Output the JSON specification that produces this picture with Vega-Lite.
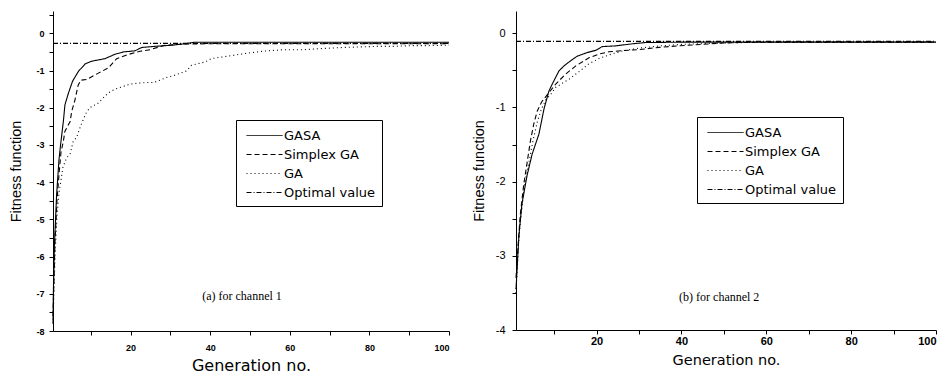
{
  "$schema": "https://vega.github.io/schema/vega-lite/v6.json",
  "background": "white",
  "padding": {"left": 8, "top": 10, "right": 0, "bottom": 0},
  "spacing": 19,
  "datasets": {
    "ch1": [
      {"series": "GASA", "gen": 0.5, "value": -7.8}, {"series": "GASA", "gen": 0.6, "value": -6.9}, {"series": "GASA", "gen": 0.85, "value": -5.7}, {"series": "GASA", "gen": 1.4, "value": -4.35}, {"series": "GASA", "gen": 2, "value": -3.4}, {"series": "GASA", "gen": 2.4, "value": -3.0}, {"series": "GASA", "gen": 3.1, "value": -2.37}, {"series": "GASA", "gen": 3.5, "value": -1.92}, {"series": "GASA", "gen": 4.4, "value": -1.6}, {"series": "GASA", "gen": 5.4, "value": -1.29}, {"series": "GASA", "gen": 6.9, "value": -1.02}, {"series": "GASA", "gen": 8.6, "value": -0.82}, {"series": "GASA", "gen": 10.2, "value": -0.75}, {"series": "GASA", "gen": 13.6, "value": -0.68}, {"series": "GASA", "gen": 16.1, "value": -0.56}, {"series": "GASA", "gen": 18.2, "value": -0.5}, {"series": "GASA", "gen": 21.1, "value": -0.47}, {"series": "GASA", "gen": 22.8, "value": -0.38}, {"series": "GASA", "gen": 26.1, "value": -0.35}, {"series": "GASA", "gen": 30.3, "value": -0.32}, {"series": "GASA", "gen": 33.6, "value": -0.28}, {"series": "GASA", "gen": 36, "value": -0.24}, {"series": "GASA", "gen": 100, "value": -0.24},
      {"series": "Simplex GA", "gen": 0.5, "value": -7.6}, {"series": "Simplex GA", "gen": 1, "value": -5.6}, {"series": "Simplex GA", "gen": 1.5, "value": -4.5}, {"series": "Simplex GA", "gen": 2, "value": -3.8}, {"series": "Simplex GA", "gen": 2.5, "value": -3.2}, {"series": "Simplex GA", "gen": 3.1, "value": -2.9}, {"series": "Simplex GA", "gen": 3.5, "value": -2.63}, {"series": "Simplex GA", "gen": 4.8, "value": -2.37}, {"series": "Simplex GA", "gen": 5.2, "value": -2.1}, {"series": "Simplex GA", "gen": 6, "value": -1.8}, {"series": "Simplex GA", "gen": 6.8, "value": -1.4}, {"series": "Simplex GA", "gen": 7.5, "value": -1.26}, {"series": "Simplex GA", "gen": 9, "value": -1.24}, {"series": "Simplex GA", "gen": 11.9, "value": -1.07}, {"series": "Simplex GA", "gen": 14.4, "value": -0.93}, {"series": "Simplex GA", "gen": 16.5, "value": -0.68}, {"series": "Simplex GA", "gen": 19.4, "value": -0.57}, {"series": "Simplex GA", "gen": 22.4, "value": -0.48}, {"series": "Simplex GA", "gen": 24.9, "value": -0.44}, {"series": "Simplex GA", "gen": 28.6, "value": -0.32}, {"series": "Simplex GA", "gen": 33, "value": -0.29}, {"series": "Simplex GA", "gen": 40, "value": -0.28}, {"series": "Simplex GA", "gen": 100, "value": -0.28},
      {"series": "GA", "gen": 0.5, "value": -7.8}, {"series": "GA", "gen": 1, "value": -6.0}, {"series": "GA", "gen": 1.5, "value": -4.9}, {"series": "GA", "gen": 2, "value": -4.3}, {"series": "GA", "gen": 3, "value": -3.6}, {"series": "GA", "gen": 3.9, "value": -3.35}, {"series": "GA", "gen": 4.8, "value": -3.24}, {"series": "GA", "gen": 5.6, "value": -2.89}, {"series": "GA", "gen": 6.4, "value": -2.81}, {"series": "GA", "gen": 7.5, "value": -2.47}, {"series": "GA", "gen": 9, "value": -2.1}, {"series": "GA", "gen": 10.2, "value": -1.96}, {"series": "GA", "gen": 11.6, "value": -1.9}, {"series": "GA", "gen": 14.4, "value": -1.6}, {"series": "GA", "gen": 16.1, "value": -1.5}, {"series": "GA", "gen": 19.4, "value": -1.38}, {"series": "GA", "gen": 20.9, "value": -1.35}, {"series": "GA", "gen": 24.3, "value": -1.32}, {"series": "GA", "gen": 25.9, "value": -1.32}, {"series": "GA", "gen": 29.2, "value": -1.18}, {"series": "GA", "gen": 30.7, "value": -1.14}, {"series": "GA", "gen": 34.1, "value": -1.01}, {"series": "GA", "gen": 35.3, "value": -0.86}, {"series": "GA", "gen": 38.7, "value": -0.77}, {"series": "GA", "gen": 40.3, "value": -0.68}, {"series": "GA", "gen": 45.3, "value": -0.6}, {"series": "GA", "gen": 49.5, "value": -0.53}, {"series": "GA", "gen": 54.3, "value": -0.47}, {"series": "GA", "gen": 58.6, "value": -0.44}, {"series": "GA", "gen": 63.5, "value": -0.44}, {"series": "GA", "gen": 67.9, "value": -0.41}, {"series": "GA", "gen": 73.4, "value": -0.38}, {"series": "GA", "gen": 76.6, "value": -0.37}, {"series": "GA", "gen": 81.7, "value": -0.35}, {"series": "GA", "gen": 86, "value": -0.35}, {"series": "GA", "gen": 90.7, "value": -0.33}, {"series": "GA", "gen": 94.7, "value": -0.33}, {"series": "GA", "gen": 100, "value": -0.32},
      {"series": "Optimal value", "gen": 0.5, "value": -0.27}, {"series": "Optimal value", "gen": 100, "value": -0.27}
    ],
    "ch2": [
      {"series": "GASA", "gen": 1, "value": -3.45}, {"series": "GASA", "gen": 1.7, "value": -2.72}, {"series": "GASA", "gen": 2.4, "value": -2.3}, {"series": "GASA", "gen": 3.6, "value": -1.92}, {"series": "GASA", "gen": 4.8, "value": -1.63}, {"series": "GASA", "gen": 6.4, "value": -1.36}, {"series": "GASA", "gen": 7.6, "value": -1.02}, {"series": "GASA", "gen": 8.75, "value": -0.78}, {"series": "GASA", "gen": 9.5, "value": -0.69}, {"series": "GASA", "gen": 11.1, "value": -0.51}, {"series": "GASA", "gen": 12.3, "value": -0.44}, {"series": "GASA", "gen": 13.9, "value": -0.37}, {"series": "GASA", "gen": 15.4, "value": -0.31}, {"series": "GASA", "gen": 17.8, "value": -0.26}, {"series": "GASA", "gen": 19.8, "value": -0.23}, {"series": "GASA", "gen": 21.3, "value": -0.18}, {"series": "GASA", "gen": 24.5, "value": -0.17}, {"series": "GASA", "gen": 28.8, "value": -0.14}, {"series": "GASA", "gen": 31.6, "value": -0.125}, {"series": "GASA", "gen": 40, "value": -0.12}, {"series": "GASA", "gen": 100, "value": -0.12},
      {"series": "Simplex GA", "gen": 1, "value": -3.3}, {"series": "Simplex GA", "gen": 1.5, "value": -2.85}, {"series": "Simplex GA", "gen": 2, "value": -2.45}, {"series": "Simplex GA", "gen": 2.8, "value": -2.05}, {"series": "Simplex GA", "gen": 3.6, "value": -1.75}, {"series": "Simplex GA", "gen": 4.4, "value": -1.45}, {"series": "Simplex GA", "gen": 5.2, "value": -1.22}, {"series": "Simplex GA", "gen": 6, "value": -1.05}, {"series": "Simplex GA", "gen": 7, "value": -0.93}, {"series": "Simplex GA", "gen": 8.75, "value": -0.8}, {"series": "Simplex GA", "gen": 10.3, "value": -0.69}, {"series": "Simplex GA", "gen": 12.7, "value": -0.55}, {"series": "Simplex GA", "gen": 15.1, "value": -0.44}, {"series": "Simplex GA", "gen": 18.2, "value": -0.33}, {"series": "Simplex GA", "gen": 20.6, "value": -0.28}, {"series": "Simplex GA", "gen": 22.9, "value": -0.25}, {"series": "Simplex GA", "gen": 26, "value": -0.235}, {"series": "Simplex GA", "gen": 30, "value": -0.22}, {"series": "Simplex GA", "gen": 34.7, "value": -0.19}, {"series": "Simplex GA", "gen": 39.4, "value": -0.17}, {"series": "Simplex GA", "gen": 44.9, "value": -0.15}, {"series": "Simplex GA", "gen": 48.8, "value": -0.135}, {"series": "Simplex GA", "gen": 53.6, "value": -0.125}, {"series": "Simplex GA", "gen": 60, "value": -0.12}, {"series": "Simplex GA", "gen": 100, "value": -0.12},
      {"series": "GA", "gen": 1, "value": -3.5}, {"series": "GA", "gen": 1.5, "value": -2.9}, {"series": "GA", "gen": 2, "value": -2.55}, {"series": "GA", "gen": 3, "value": -2.05}, {"series": "GA", "gen": 4, "value": -1.75}, {"series": "GA", "gen": 5, "value": -1.45}, {"series": "GA", "gen": 6, "value": -1.2}, {"series": "GA", "gen": 7, "value": -1.02}, {"series": "GA", "gen": 8, "value": -0.9}, {"series": "GA", "gen": 9.5, "value": -0.8}, {"series": "GA", "gen": 10.3, "value": -0.73}, {"series": "GA", "gen": 13.5, "value": -0.62}, {"series": "GA", "gen": 15.8, "value": -0.52}, {"series": "GA", "gen": 18.2, "value": -0.41}, {"series": "GA", "gen": 20.6, "value": -0.34}, {"series": "GA", "gen": 23, "value": -0.29}, {"series": "GA", "gen": 26, "value": -0.24}, {"series": "GA", "gen": 30, "value": -0.2}, {"series": "GA", "gen": 35, "value": -0.17}, {"series": "GA", "gen": 40, "value": -0.15}, {"series": "GA", "gen": 50, "value": -0.13}, {"series": "GA", "gen": 60, "value": -0.12}, {"series": "GA", "gen": 100, "value": -0.12},
      {"series": "Optimal value", "gen": 1, "value": -0.11}, {"series": "Optimal value", "gen": 100, "value": -0.11}
    ]
  },
  "hconcat": [
    {
      "width": 396,
      "height": 320,
      "encoding": {
        "x": {"field": "gen", "type": "quantitative", "scale": {"domain": [0.5, 100], "nice": false, "zero": false},
          "axis": {"title": "Generation no.", "values": [10, 20, 30, 40, 50, 60, 70, 80, 90, 100], "labelExpr": "datum.value % 20 == 0 ? '' + datum.value : ''", "labelOverlap": false, "labelFontSize": 9, "labelFontWeight": "bold", "labelPadding": 8, "titleFont": "DejaVu Sans", "titleFontSize": 16, "titlePadding": 5}},
        "y": {"field": "value", "type": "quantitative", "scale": {"domain": [-8, 0.6], "nice": false, "zero": false},
          "axis": {"title": "Fitness function", "values": [-8, -7.5, -7, -6.5, -6, -5.5, -5, -4.5, -4, -3.5, -3, -2.5, -2, -1.5, -1, -0.5, 0, 0.5], "labelExpr": "abs(datum.value - round(datum.value)) < 0.01 ? '' + round(datum.value) : ''", "labelOverlap": false, "labelFontSize": 9, "labelFontWeight": "bold", "labelPadding": 5, "titleFontSize": 14.5, "titlePadding": 12}}
      },
      "layer": [
        {
          "data": {"name": "ch1"},
          "mark": {"type": "line", "color": "black", "strokeWidth": 1.1},
          "encoding": {
            "strokeDash": {"field": "series", "type": "nominal",
              "scale": {"domain": ["GASA", "Simplex GA", "GA", "Optimal value"], "range": [[1, 0], [5, 3], [1, 3], [5, 2, 1, 2]]},
              "legend": {"orient": "none", "legendX": 183, "legendY": 109, "title": null, "padding": 6, "strokeColor": "black", "fillColor": "white", "symbolType": "M-2,0H2", "symbolSize": 324, "symbolStrokeWidth": 1, "symbolStrokeColor": "black", "symbolOffset": 13, "labelOffset": 10, "labelFont": "DejaVu Sans", "labelFontSize": 13, "labelColor": "black", "rowPadding": 2}}
          }
        },
        {
          "data": {"values": [{"gen": 48, "value": -7.07, "label": "(a) for channel 1"}]},
          "mark": {"type": "text", "font": "Liberation Serif", "fontSize": 12, "color": "black"},
          "encoding": {"text": {"field": "label"}}
        }
      ]
    },
    {
      "width": 420,
      "height": 319,
      "encoding": {
        "x": {"field": "gen", "type": "quantitative", "scale": {"domain": [1, 100], "nice": false, "zero": false},
          "axis": {"title": "Generation no.", "values": [10, 20, 30, 40, 50, 60, 70, 80, 90, 100], "labelExpr": "datum.value % 20 == 0 ? '' + datum.value : ''", "labelOverlap": false, "labelFontSize": 11, "labelFontWeight": "bold", "labelPadding": 1, "titleFont": "DejaVu Sans", "titleFontSize": 14.5, "titlePadding": 7}},
        "y": {"field": "value", "type": "quantitative", "scale": {"domain": [-4, 0.3], "nice": false, "zero": false},
          "axis": {"title": "Fitness function", "values": [-4, -3.5, -3, -2.5, -2, -1.5, -1, -0.5, 0], "labelExpr": "abs(datum.value - round(datum.value)) < 0.01 ? '' + round(datum.value) : ''", "labelOverlap": false, "labelFontSize": 11, "labelPadding": 7, "titleFontSize": 14.5, "titlePadding": 9}}
      },
      "layer": [
        {
          "data": {"name": "ch2"},
          "mark": {"type": "line", "color": "black", "strokeWidth": 1.1},
          "encoding": {
            "strokeDash": {"field": "series", "type": "nominal",
              "scale": {"domain": ["GASA", "Simplex GA", "GA", "Optimal value"], "range": [[1, 0], [5, 3], [1, 3], [5, 2, 1, 2]]},
              "legend": {"orient": "none", "legendX": 181, "legendY": 106, "title": null, "padding": 6, "strokeColor": "black", "fillColor": "white", "symbolType": "M-2,0H2", "symbolSize": 324, "symbolStrokeWidth": 1, "symbolStrokeColor": "black", "symbolOffset": 13, "labelOffset": 10, "labelFont": "DejaVu Sans", "labelFontSize": 13, "labelColor": "black", "rowPadding": 2}}
          }
        },
        {
          "data": {"values": [{"gen": 48.9, "value": -3.55, "label": "(b) for channel 2"}]},
          "mark": {"type": "text", "font": "Liberation Serif", "fontSize": 12, "color": "black"},
          "encoding": {"text": {"field": "label"}}
        }
      ]
    }
  ],
  "resolve": {"scale": {"strokeDash": "independent", "x": "independent", "y": "independent"}, "legend": {"strokeDash": "independent"}},
  "config": {
    "view": {"stroke": null},
    "font": "Liberation Sans",
    "axis": {"grid": false, "labelOverlap": false, "domainColor": "black", "tickColor": "black", "tickSize": 4, "labelColor": "black", "titleColor": "black", "titleFontWeight": "normal", "labelFont": "Liberation Sans", "titleFont": "Liberation Sans"}
  }
}
